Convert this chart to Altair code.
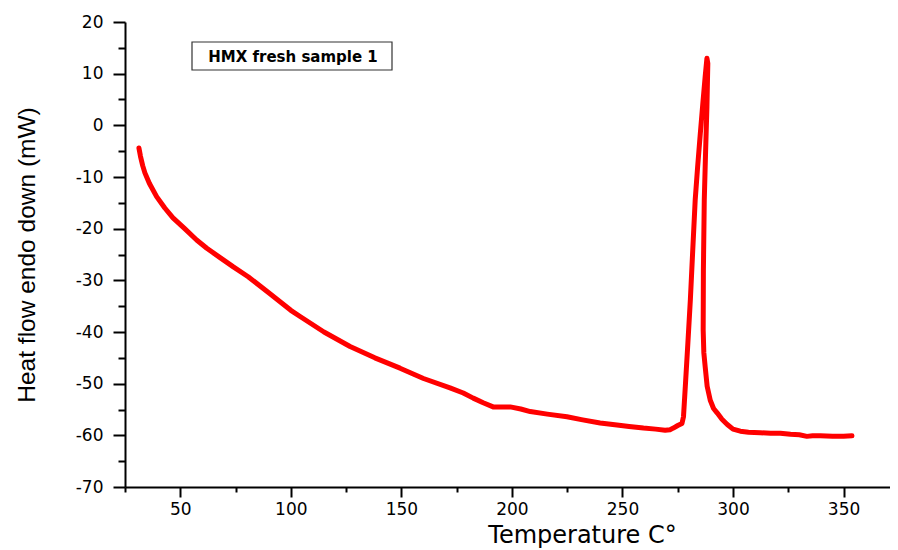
import altair as alt
import pandas as pd

# Temperature (°C) and heat flow (mW), in recording order
temperature = [31.3, 32, 33, 34, 36, 39.3, 43, 46.7, 52, 57.4, 62, 68, 74, 80.7, 90, 100,
               104.2, 115, 126.8, 138, 149.4, 160, 172, 178, 182.5, 187, 191.5, 195, 199.2,
               204, 208.3, 216, 224.9, 232, 239.9, 247.5, 253, 259.5, 265, 269.3, 271.5,
               273, 275, 276.9, 277.6, 278.5, 279.6, 280.7, 281.8, 282.9, 284, 285.2, 286.3,
               287.4, 288.2, 288.6, 288.2, 287.6, 287.0, 286.6, 286.5, 286.8, 287.4, 288.3,
               289.7, 291.2, 292.9, 295, 297.4, 300, 303.3, 307, 312.3, 317, 321.4, 326,
               330, 333.4, 336, 339.5, 345, 350, 353.8]
heat_flow = [-4.4, -6.0, -7.8, -9.2, -11.2, -13.8, -16.0, -17.9, -20.0, -22.2, -23.8, -25.6,
             -27.4, -29.3, -32.4, -35.8, -37.0, -40.0, -42.8, -45.0, -47.0, -49.0, -50.8,
             -51.8, -52.8, -53.7, -54.5, -54.5, -54.5, -54.9, -55.4, -55.9, -56.4, -57.0,
             -57.6, -58.0, -58.3, -58.6, -58.8, -59.0, -58.9, -58.6, -58.1, -57.7, -56.4,
             -50.0, -42.0, -33.8, -24.0, -14.4, -8.0, -1.6, 4.0, 9.4, 13.0, 12.0, 3.6, -5.0,
             -14.4, -28.0, -39.6, -44.0, -46.7, -50.5, -53.2, -54.8, -55.7, -56.9, -57.9,
             -58.8, -59.2, -59.4, -59.5, -59.6, -59.6, -59.8, -59.9, -60.2, -60.1, -60.1,
             -60.2, -60.2, -60.1]

x_ticks = [25, 50, 75, 100, 125, 150, 175, 200, 225, 250, 275, 300, 325, 350]
y_ticks = [-70, -65, -60, -55, -50, -45, -40, -35, -30, -25, -20, -15, -10, -5, 0, 5, 10, 15, 20]
legend_label = "HMX fresh sample 1"

df = pd.DataFrame({"T": temperature, "HF": heat_flow, "i": list(range(len(temperature)))})

W, H = 765, 465

x_axis = alt.Axis(
    values=x_ticks,
    labelExpr="datum.value % 50 === 0 ? toString(datum.value) : ''",
    tickSize={"condition": {"test": "datum.value % 50 === 0", "value": 10}, "value": 5},
    tickWidth=2, tickColor="black", domainWidth=2, domainColor="black",
    labelFont="DejaVu Sans", labelFontSize=17, labelColor="black", labelPadding=4,
    title="Temperature C°", titleFont="DejaVu Sans", titleFontSize=24,
    titleFontWeight="normal", titleColor="black",
    titleX=457, titleY=55, titleBaseline="alphabetic", titleAnchor="middle",
    grid=False, labelFlush=False,
)
y_axis = alt.Axis(
    values=y_ticks,
    labelExpr="datum.value % 10 === 0 ? toString(datum.value) : ''",
    tickSize={"condition": {"test": "datum.value % 10 === 0", "value": 12}, "value": 7},
    tickWidth=2, tickColor="black", domainWidth=2, domainColor="black",
    labelFont="DejaVu Sans", labelFontSize=17, labelColor="black", labelPadding=10,
    title="Heat flow endo down (mW)", titleFont="Liberation Sans", titleFontSize=24.5,
    titleFontWeight="normal", titleColor="black",
    titleX=-91, titleY=H / 2, titleBaseline="alphabetic", titleAngle=-90,
    grid=False, labelFlush=False,
)

line = alt.Chart(df).mark_line(color="#FF0000", strokeWidth=5, strokeJoin="round",
                               strokeCap="round").encode(
    x=alt.X("T:Q", scale=alt.Scale(domain=[25, 371], nice=False, zero=False), axis=x_axis),
    y=alt.Y("HF:Q", scale=alt.Scale(domain=[-70, 20], nice=False, zero=False), axis=y_axis),
    order="i:Q",
)

box = alt.Chart(pd.DataFrame({"label": [legend_label]})).mark_rect(
    fill="white", stroke="#333333", strokeWidth=1.2
).encode(
    x=alt.value(67), x2=alt.value(267), y=alt.value(20), y2=alt.value(48)
)
txt = alt.Chart(pd.DataFrame({"label": [legend_label]})).mark_text(
    font="DejaVu Sans", fontSize=15, fontWeight="bold", color="black",
    align="center", baseline="alphabetic"
).encode(
    x=alt.value(168), y=alt.value(39.5), text="label:N"
)

chart = alt.layer(line, box, txt).properties(
    width=W, height=H,
    autosize=alt.AutoSizeParams(type="none"),
    padding={"left": 117, "top": 14, "right": 0, "bottom": 62},
).configure(background="white").configure_view(stroke=None)

chart.save("out.html", embed_options={"renderer": "svg", "actions": False})
